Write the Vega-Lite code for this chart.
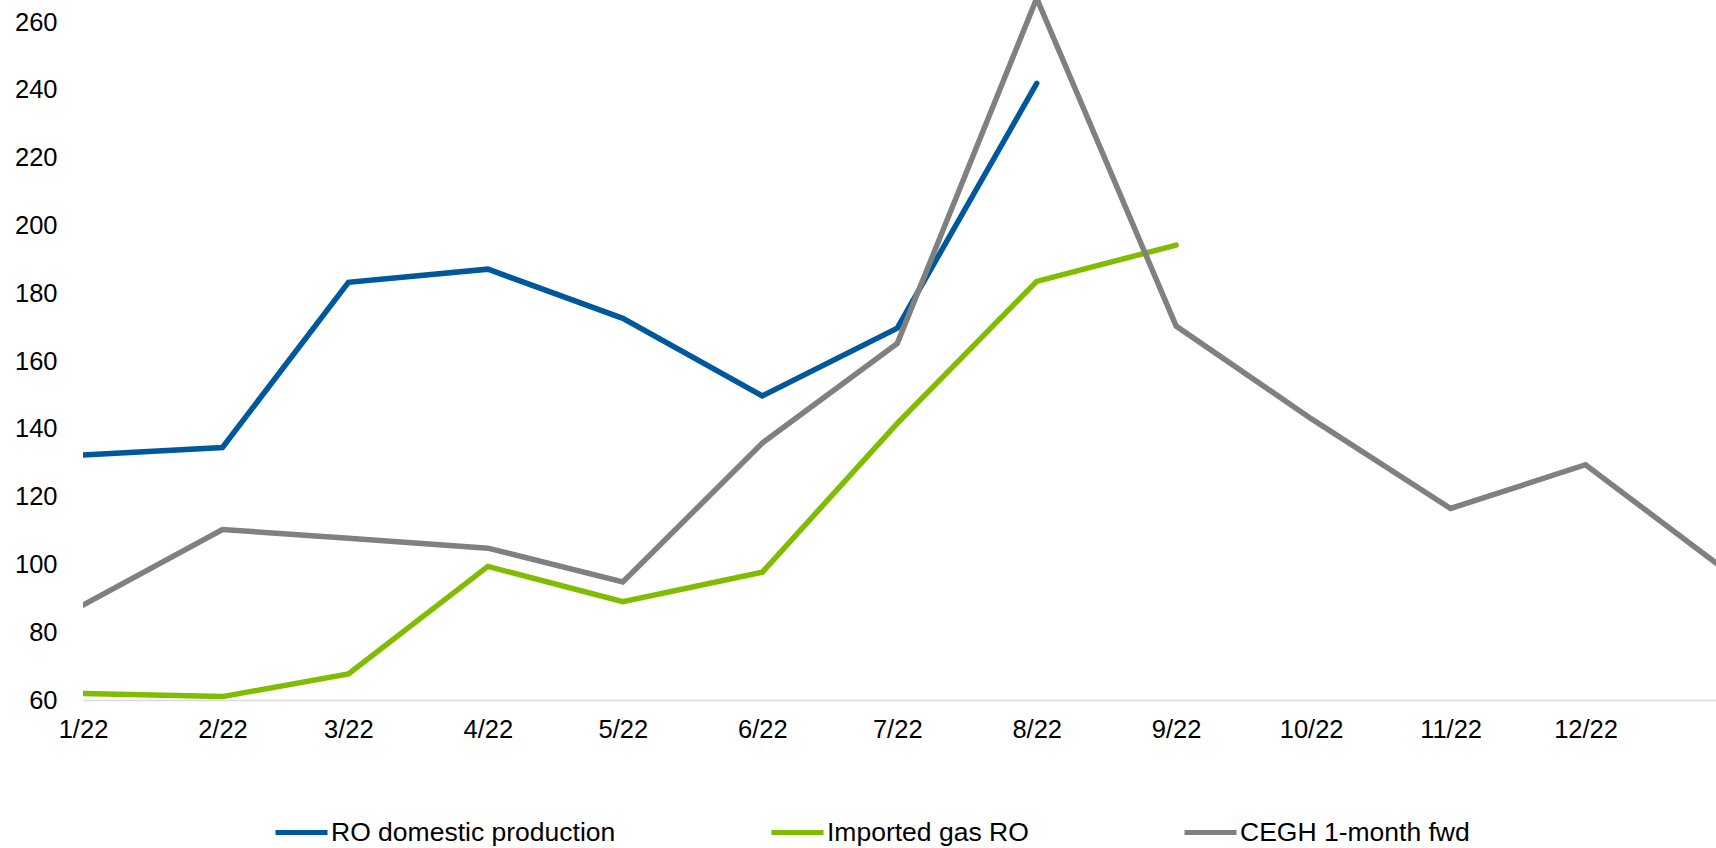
{
  "$schema": "https://vega.github.io/schema/vega-lite/v6.json",
  "autosize": "none",
  "width": 1633,
  "height": 700,
  "padding": {"left": 83, "top": 0, "right": 0, "bottom": 148},
  "background": "white",
  "config": {
    "view": {"stroke": null},
    "font": "Liberation Sans"
  },
  "data": {
    "values": [
      {"month": "2022-01-01T00:00:00", "series": "RO domestic production", "value": 132.3},
      {"month": "2022-02-01T00:00:00", "series": "RO domestic production", "value": 134.5},
      {"month": "2022-03-01T00:00:00", "series": "RO domestic production", "value": 183.2},
      {"month": "2022-04-01T00:00:00", "series": "RO domestic production", "value": 187.1},
      {"month": "2022-05-01T00:00:00", "series": "RO domestic production", "value": 172.6},
      {"month": "2022-06-01T00:00:00", "series": "RO domestic production", "value": 149.7},
      {"month": "2022-07-01T00:00:00", "series": "RO domestic production", "value": 169.7},
      {"month": "2022-08-01T00:00:00", "series": "RO domestic production", "value": 241.9},

      {"month": "2022-01-01T00:00:00", "series": "Imported gas RO", "value": 61.9},
      {"month": "2022-02-01T00:00:00", "series": "Imported gas RO", "value": 61.0},
      {"month": "2022-03-01T00:00:00", "series": "Imported gas RO", "value": 67.7},
      {"month": "2022-04-01T00:00:00", "series": "Imported gas RO", "value": 99.4},
      {"month": "2022-05-01T00:00:00", "series": "Imported gas RO", "value": 89.0},
      {"month": "2022-06-01T00:00:00", "series": "Imported gas RO", "value": 97.7},
      {"month": "2022-07-01T00:00:00", "series": "Imported gas RO", "value": 141.6},
      {"month": "2022-08-01T00:00:00", "series": "Imported gas RO", "value": 183.5},
      {"month": "2022-09-01T00:00:00", "series": "Imported gas RO", "value": 194.2},

      {"month": "2022-01-01T00:00:00", "series": "CEGH 1-month fwd", "value": 88.0},
      {"month": "2022-02-01T00:00:00", "series": "CEGH 1-month fwd", "value": 110.3},
      {"month": "2022-03-01T00:00:00", "series": "CEGH 1-month fwd", "value": 107.7},
      {"month": "2022-04-01T00:00:00", "series": "CEGH 1-month fwd", "value": 104.8},
      {"month": "2022-05-01T00:00:00", "series": "CEGH 1-month fwd", "value": 94.8},
      {"month": "2022-06-01T00:00:00", "series": "CEGH 1-month fwd", "value": 135.8},
      {"month": "2022-07-01T00:00:00", "series": "CEGH 1-month fwd", "value": 165.2},
      {"month": "2022-08-01T00:00:00", "series": "CEGH 1-month fwd", "value": 267.0},
      {"month": "2022-09-01T00:00:00", "series": "CEGH 1-month fwd", "value": 170.3},
      {"month": "2022-10-01T00:00:00", "series": "CEGH 1-month fwd", "value": 143.0},
      {"month": "2022-11-01T00:00:00", "series": "CEGH 1-month fwd", "value": 116.5},
      {"month": "2022-12-01T00:00:00", "series": "CEGH 1-month fwd", "value": 129.4},
      {"month": "2023-01-01T00:00:00", "series": "CEGH 1-month fwd", "value": 98.4}
    ]
  },
  "mark": {"type": "line", "strokeWidth": 5.5, "strokeCap": "round", "strokeJoin": "miter", "clip": true},
  "encoding": {
    "x": {
      "field": "month",
      "type": "temporal",
      "scale": {
        "domain": [
          {"year": 2022, "month": 1, "date": 1},
          {"year": 2022, "month": 12, "date": 30}
        ]
      },
      "axis": {
        "title": null,
        "format": "%-m/%y",
        "tickCount": {"interval": "month", "step": 1},
        "labelFlush": false,
        "labelOverlap": false,
        "ticks": false,
        "grid": false,
        "domainColor": "#d9d9d9",
        "domainWidth": 1.5,
        "labelFontSize": 25.5,
        "labelColor": "#000000",
        "labelPadding": 17
      }
    },
    "y": {
      "field": "value",
      "type": "quantitative",
      "scale": {"domain": [60, 266.5], "nice": false, "zero": false},
      "axis": {
        "title": null,
        "values": [60, 80, 100, 120, 140, 160, 180, 200, 220, 240, 260],
        "domain": false,
        "ticks": false,
        "grid": false,
        "labelFontSize": 25.5,
        "labelColor": "#000000",
        "labelPadding": 26
      }
    },
    "color": {
      "field": "series",
      "type": "nominal",
      "scale": {
        "domain": ["RO domestic production", "Imported gas RO", "CEGH 1-month fwd"],
        "range": ["#00589c", "#80bc00", "#808080"]
      },
      "legend": {
        "title": null,
        "orient": "none",
        "legendX": 190,
        "legendY": 804,
        "direction": "horizontal",
        "columnPadding": 145,
        "symbolType": "stroke",
        "symbolSize": 2704,
        "symbolStrokeWidth": 5,
        "labelFontSize": 26.5,
        "labelLimit": 0,
        "labelColor": "#000000",
        "labelOffset": 1
      }
    }
  }
}
